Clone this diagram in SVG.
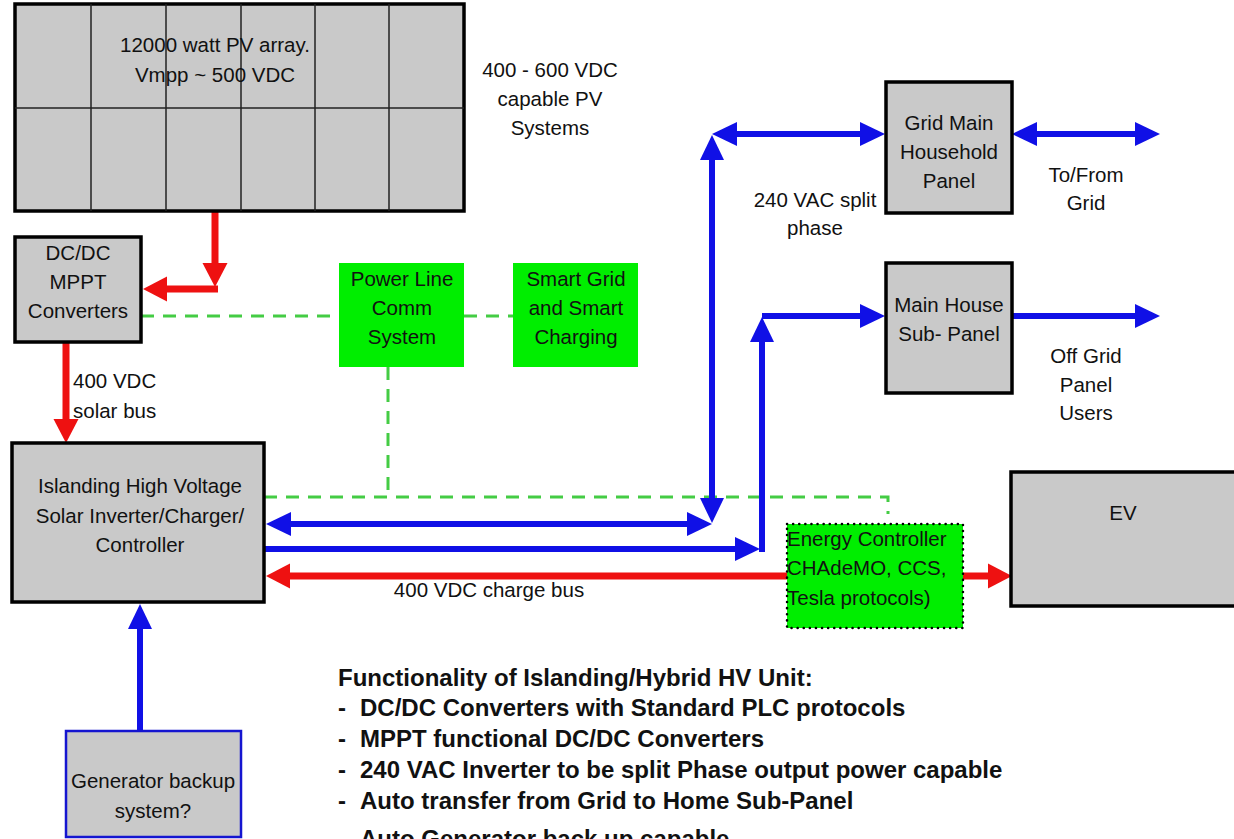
<svg xmlns="http://www.w3.org/2000/svg" width="1234" height="839" viewBox="0 0 1234 839">
  <style>
    .box { fill: #c9c9c9; stroke: #000; stroke-width: 3.5; }
    .gbox { fill: #00ee00; stroke: none; }
    .t { font-family: "Liberation Sans", Arial, sans-serif; font-size: 20.5px; fill: #111; text-anchor: middle; }
    .tl { text-anchor: start; }
    .b { font-family: "Liberation Sans", Arial, sans-serif; font-size: 24px; font-weight: bold; fill: #111; }
    .blue { stroke: #1010e6; stroke-width: 6; fill: none; }
    .red { stroke: #ee1111; stroke-width: 7; fill: none; }
    .dash { stroke: #44cc44; stroke-width: 3; fill: none; stroke-dasharray: 13 9; }
    .grid { stroke: #222; stroke-width: 1.5; }
  </style>
  <defs>
    <marker id="hb" markerUnits="userSpaceOnUse" markerWidth="26" markerHeight="26" refX="0" refY="12" orient="auto-start-reverse" viewBox="0 0 26 24">
      <path d="M0,0 L25,12 L0,24 z" fill="#1010e6"/>
    </marker>
    <marker id="hr" markerUnits="userSpaceOnUse" markerWidth="26" markerHeight="26" refX="0" refY="12.5" orient="auto-start-reverse" viewBox="0 0 26 25">
      <path d="M0,0 L24,12.5 L0,25 z" fill="#ee1111"/>
    </marker>
  </defs>

  <rect x="0" y="0" width="1234" height="839" fill="#ffffff"/>

  <g id="connectors">
    <path class="dash" d="M141,316 H339"/>
    <path class="dash" d="M464,316 H513"/>
    <path class="dash" d="M388,367 V497"/>
    <path class="dash" d="M264,497 H888 V514"/>
    <path class="red" d="M215,211 V263" marker-end="url(#hr)"/>
    <path class="red" d="M218,289 H167" marker-end="url(#hr)"/>
    <path class="red" d="M66,342 V419" marker-end="url(#hr)"/>
    <path class="red" d="M787,576 H290" marker-end="url(#hr)"/>
    <path class="red" d="M963,576 H988" marker-end="url(#hr)"/>
    <path class="blue" d="M712,498 V160" marker-start="url(#hb)" marker-end="url(#hb)"/>
    <path class="blue" d="M737,134 H860" marker-start="url(#hb)" marker-end="url(#hb)"/>
    <path class="blue" d="M1037,134 H1135" marker-start="url(#hb)" marker-end="url(#hb)"/>
    <path class="blue" d="M291,524 H687" marker-start="url(#hb)" marker-end="url(#hb)"/>
    <path class="blue" d="M263,549 H735" marker-end="url(#hb)"/>
    <path class="blue" d="M762,552 V342" marker-end="url(#hb)"/>
    <path class="blue" d="M762,316 H860" marker-end="url(#hb)"/>
    <path class="blue" d="M1012,316 H1135" marker-end="url(#hb)"/>
    <path class="blue" d="M140,733 V629" marker-end="url(#hb)"/>
  </g>

  <g id="pv-array">
    <rect class="box" x="15" y="4" width="449" height="207"/>
    <path class="grid" d="M91,4 V211 M166,4 V211 M241,4 V211 M315,4 V211 M389,4 V211 M15,108 H464"/>
    <text class="t" x="215" y="52">12000 watt PV array.</text>
    <text class="t" x="215" y="82">Vmpp ~ 500 VDC</text>
  </g>

  <g id="pv-label">
    <text class="t" x="550" y="77">400 - 600 VDC</text>
    <text class="t" x="550" y="106">capable PV</text>
    <text class="t" x="550" y="135">Systems</text>
  </g>

  <g id="dcdc">
    <rect class="box" x="15" y="237" width="126" height="105"/>
    <text class="t" x="78" y="260">DC/DC</text>
    <text class="t" x="78" y="289">MPPT</text>
    <text class="t" x="78" y="318">Converters</text>
  </g>

  <g id="solar-bus-label">
    <text class="t tl" x="73" y="388">400 VDC</text>
    <text class="t tl" x="73" y="418">solar bus</text>
  </g>

  <g id="plc">
    <rect class="gbox" x="339" y="263" width="125" height="104"/>
    <text class="t" x="402" y="286">Power Line</text>
    <text class="t" x="402" y="315">Comm</text>
    <text class="t" x="402" y="344">System</text>
  </g>

  <g id="smart-grid">
    <rect class="gbox" x="513" y="263" width="125" height="104"/>
    <text class="t" x="576" y="286">Smart Grid</text>
    <text class="t" x="576" y="315">and Smart</text>
    <text class="t" x="576" y="344">Charging</text>
  </g>

  <g id="inverter">
    <rect class="box" x="12" y="443" width="252" height="159"/>
    <text class="t" x="140" y="493">Islanding High Voltage</text>
    <text class="t" x="140" y="523">Solar Inverter/Charger/</text>
    <text class="t" x="140" y="552">Controller</text>
  </g>

  <g id="ac-label">
    <text class="t" x="815" y="207">240 VAC split</text>
    <text class="t" x="815" y="235">phase</text>
  </g>

  <g id="grid-main">
    <rect class="box" x="886" y="82" width="126" height="131"/>
    <text class="t" x="949" y="130">Grid Main</text>
    <text class="t" x="949" y="159">Household</text>
    <text class="t" x="949" y="188">Panel</text>
  </g>

  <g id="grid-label">
    <text class="t" x="1086" y="182">To/From</text>
    <text class="t" x="1086" y="210">Grid</text>
  </g>

  <g id="sub-panel">
    <rect class="box" x="886" y="263" width="126" height="130"/>
    <text class="t" x="949" y="312">Main House</text>
    <text class="t" x="949" y="341">Sub- Panel</text>
  </g>

  <g id="offgrid-label">
    <text class="t" x="1086" y="363">Off Grid</text>
    <text class="t" x="1086" y="392">Panel</text>
    <text class="t" x="1086" y="420">Users</text>
  </g>

  <g id="ev">
    <rect class="box" x="1011" y="472" width="228" height="134"/>
    <text class="t" x="1123" y="520">EV</text>
  </g>

  <g id="energy-controller">
    <rect x="787" y="524" width="176" height="104" fill="#00ee00" stroke="#000" stroke-width="2.5" stroke-dasharray="0.1 6" stroke-linecap="round"/>
    <text class="t tl" x="787" y="546" fill="#0b2e0b">Energy Controller</text>
    <text class="t tl" x="787" y="575" fill="#0b2e0b">CHAdeMO, CCS,</text>
    <text class="t tl" x="787" y="605" fill="#0b2e0b">Tesla protocols)</text>
  </g>

  <g id="charge-bus-label">
    <text class="t" x="489" y="597">400 VDC charge bus</text>
  </g>

  <g id="generator">
    <rect x="66" y="731" width="175" height="106" fill="#c9c9c9" stroke="#1515d0" stroke-width="2.5"/>
    <text class="t" x="153" y="788">Generator backup</text>
    <text class="t" x="153" y="818">system?</text>
  </g>

  <g id="functionality">
    <text class="b" x="338" y="686">Functionality of Islanding/Hybrid HV Unit:</text>
    <text class="b" y="716"><tspan x="338">-</tspan><tspan x="360">DC/DC Converters with Standard PLC protocols</tspan></text>
    <text class="b" y="747"><tspan x="338">-</tspan><tspan x="360">MPPT  functional DC/DC Converters</tspan></text>
    <text class="b" y="778"><tspan x="338">-</tspan><tspan x="360">240 VAC Inverter to be split Phase output power capable</tspan></text>
    <text class="b" y="809"><tspan x="338">-</tspan><tspan x="360">Auto transfer from Grid to Home Sub-Panel</tspan></text>
    <text class="b" y="847"><tspan x="338">-</tspan><tspan x="360">Auto Generator back up capable</tspan></text>
  </g>
</svg>
